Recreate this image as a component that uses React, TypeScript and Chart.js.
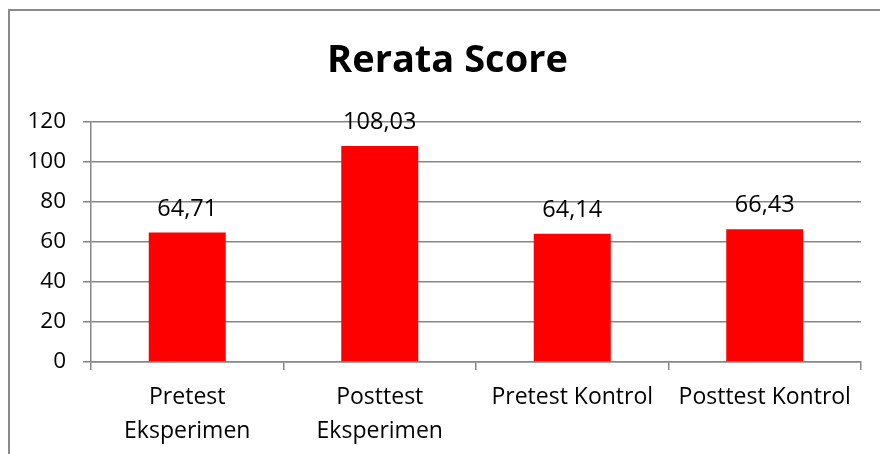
import React, { useEffect, useRef } from "react";
import { Chart, registerables } from "chart.js";

Chart.register(...registerables);

const title = "Rerata Score";
const categories: string[][] = [
  ["Pretest", "Eksperimen"],
  ["Posttest", "Eksperimen"],
  ["Pretest Kontrol"],
  ["Posttest Kontrol"],
];
const values: number[] = [64.71, 108.03, 64.14, 66.43];
const yMin = 0;
const yMax = 120;
const yStep = 20;

const FONT = "'Open Sans', Lato, sans-serif";
const GRID = "#878787";

const framePlugin = {
  id: "frame",
  beforeDraw(chart: any) {
    const ctx = chart.ctx;
    ctx.save();
    ctx.fillStyle = "#ffffff";
    ctx.fillRect(0, 0, chart.width, chart.height);
    ctx.strokeStyle = "#8a8a8a";
    ctx.lineWidth = 2;
    ctx.beginPath();
    ctx.moveTo(9, chart.height + 5);
    ctx.lineTo(9, 10);
    ctx.lineTo(chart.width + 5, 10);
    ctx.stroke();
    ctx.fillStyle = "#000000";
    ctx.font = `bold 38px ${FONT}`;
    ctx.textAlign = "center";
    ctx.textBaseline = "alphabetic";
    ctx.fillText(title, 447.5, 72);
    ctx.restore();
  },
};

const valueLabelPlugin = {
  id: "valueLabels",
  afterDatasetsDraw(chart: any) {
    const ctx = chart.ctx;
    const meta = chart.getDatasetMeta(0);
    ctx.save();
    ctx.fillStyle = "#000000";
    ctx.font = `23.5px ${FONT}`;
    ctx.textAlign = "center";
    ctx.textBaseline = "alphabetic";
    meta.data.forEach((bar: any, i: number) => {
      const v = chart.data.datasets[0].data[i] as number;
      ctx.fillText(v.toFixed(2).replace(".", ","), bar.x, bar.y - 17);
    });
    ctx.restore();
  },
};

export default function App() {
  const ref = useRef<HTMLCanvasElement | null>(null);
  useEffect(() => {
    document.body.style.margin = "0";
    const canvas = ref.current!;
    const chart = new Chart(canvas, {
      type: "bar",
      data: {
        labels: categories,
        datasets: [
          {
            data: values,
            backgroundColor: "#ff0000",
            borderWidth: 0,
            categoryPercentage: 1,
            barPercentage: 0.4,
          },
        ],
      },
      options: {
        responsive: false,
        animation: false,
        devicePixelRatio: 1,
        layout: { padding: { left: 0, right: 19, top: 122, bottom: 0 } },
        plugins: {
          legend: { display: false },
          title: { display: false },
          tooltip: { enabled: false },
        },
        scales: {
          x: {
            grid: {
              display: true,
              drawOnChartArea: false,
              drawTicks: true,
              tickLength: 8,
              color: GRID,
              lineWidth: 1.5,
              offset: true,
            },
            border: { display: true, color: GRID, width: 1.5 },
            ticks: {
              color: "#000000",
              font: { family: FONT, size: 23, lineHeight: 34 / 23 },
              padding: 10,
              maxRotation: 0,
              autoSkip: false,
            },
            afterFit(scale: any) {
              scale.height = 92;
            },
          },
          y: {
            min: yMin,
            max: yMax,
            grid: {
              color: GRID,
              lineWidth: 1.5,
              drawTicks: true,
              tickLength: 8,
            },
            border: { display: true, color: GRID, width: 1.5 },
            ticks: {
              stepSize: yStep,
              color: "#000000",
              font: { family: FONT, size: 22.5 },
              padding: 17,
            },
            afterFit(scale: any) {
              scale.width = 91;
            },
          },
        },
      },
      plugins: [framePlugin, valueLabelPlugin],
    });
    return () => chart.destroy();
  }, []);
  return (
    <div style={{ position: "absolute", left: 0, top: 0, width: 880, height: 454 }}>
      <canvas ref={ref} width={880} height={454} style={{ display: "block" }} />
    </div>
  );
}
